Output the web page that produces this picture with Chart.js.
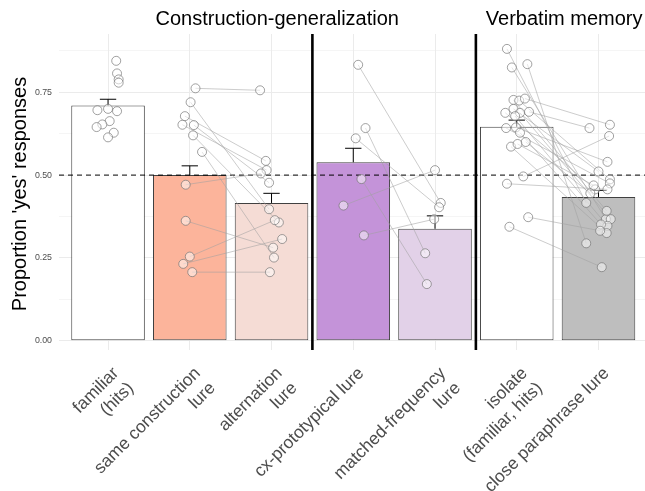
<!DOCTYPE html>
<html>
<head>
<meta charset="utf-8">
<script src="https://cdn.jsdelivr.net/npm/chart.js@4.4.1/dist/chart.umd.min.js"></script>
<style>
  html, body { margin: 0; padding: 0; background: #ffffff; }
  canvas { display: block; }
</style>
</head>
<body>
<canvas id="c" width="645" height="491"></canvas>
<script>
// ---------- DATA ----------
const tickLabels = [
  ['familiar', '(hits)'],
  ['same construction', 'lure'],
  ['alternation', 'lure'],
  ['cx-prototypical lure'],
  ['matched-frequency', 'lure'],
  ['isolate', '(familiar, hits)'],
  ['close paraphrase lure']
];
const groupTitles = ['Construction-generalization', 'Verbatim memory'];
const groupTitleAt = [2.07, 5.58];
const separatorsAt = [2.5, 4.5];
const referenceLine = 0.5;
const yTickValues = [0, 0.125, 0.25, 0.375, 0.5, 0.625, 0.75, 0.875];

const means = [0.710, 0.500, 0.416, 0.539, 0.338, 0.646, 0.434];
const ses   = [0.019, 0.028, 0.029, 0.042, 0.039, 0.020, 0.020];

// participant values (jitter in category units)
const familiarVals = [0.845, 0.807, 0.789, 0.779, 0.696, 0.700, 0.693, 0.663, 0.653, 0.645, 0.628, 0.614];
const familiarJit  = [0.10, 0.11, 0.13, 0.13, -0.13, 0.00, 0.11, 0.02, -0.07, -0.14, 0.07, 0.00];

const sameVals = [0.762, 0.720, 0.678, 0.652, 0.651, 0.620, 0.570, 0.471, 0.362, 0.254, 0.232, 0.207];
const sameJit  = [0.07, 0.01, -0.06, -0.09, 0.05, 0.04, 0.15, -0.05, -0.05, 0.00, -0.08, 0.03];
const altVals  = [0.756, 0.397, 0.543, 0.515, 0.477, 0.357, 0.251, 0.505, 0.281, 0.364, 0.307, 0.207];
const altJit   = [-0.14, -0.03, -0.07, -0.06, -0.03, 0.09, 0.03, -0.13, 0.02, 0.04, 0.13, -0.02];

const cxVals = [0.833, 0.642, 0.611, 0.488, 0.408, 0.318];
const cxJit  = [0.06, 0.15, 0.03, 0.10, -0.12, 0.13];
const mfVals = [0.416, 0.264, 0.403, 0.171, 0.515, 0.367];
const mfJit  = [0.07, -0.12, 0.05, -0.10, 0.00, -0.01];

const isoVals = [0.881, 0.825, 0.835, 0.727, 0.725, 0.731, 0.700, 0.688, 0.688, 0.691, 0.678, 0.642, 0.644, 0.628, 0.586, 0.594, 0.600, 0.496, 0.474, 0.373, 0.344];
const isoJit  = [-0.12, -0.06, 0.13, -0.04, 0.03, 0.10, -0.04, -0.14, 0.04, 0.15, -0.02, -0.13, -0.01, 0.04, -0.07, 0.01, 0.11, 0.08, -0.12, 0.14, -0.09];
const cpVals  = [0.416, 0.367, 0.294, 0.392, 0.487, 0.652, 0.511, 0.457, 0.367, 0.642, 0.347, 0.475, 0.540, 0.351, 0.325, 0.469, 0.445, 0.618, 0.457, 0.332, 0.222];
const cpJit   = [-0.15, 0.09, -0.15, 0.10, 0.14, 0.14, 0.00, -0.04, 0.15, -0.11, 0.11, 0.14, 0.11, 0.03, 0.10, -0.06, -0.10, 0.13, 0.11, 0.02, 0.04];

// ---------- STYLE ----------
const barColors = ['#ffffff', '#fcb49b', '#f5dcd5', '#c493d9', '#e2d1e8', '#ffffff', '#bebebe'];
const FONT = '"Liberation Sans", Arial, Helvetica, sans-serif';

// ---------- BUILD ----------
const unpaired = [{ cat: 0, vals: familiarVals, jit: familiarJit }];
const paired = [
  { a: 1, av: sameVals, aj: sameJit, b: 2, bv: altVals, bj: altJit },
  { a: 3, av: cxVals, aj: cxJit, b: 4, bv: mfVals, bj: mfJit },
  { a: 5, av: isoVals, aj: isoJit, b: 6, bv: cpVals, bj: cpJit }
];

const pointData = [];
const lineData = [];
unpaired.forEach(g => g.vals.forEach((v, i) => pointData.push({ x: g.cat + g.jit[i], y: v })));
paired.forEach(p => {
  p.av.forEach((v, i) => {
    const A = { x: p.a + p.aj[i], y: v };
    const B = { x: p.b + p.bj[i], y: p.bv[i] };
    lineData.push(A, B, { x: p.b + p.bj[i], y: null });
    pointData.push(A, B);
  });
});

const annot = {
  id: 'annot',
  afterDatasetDraw(chart, args) {
    if (args.index !== 0) return;
    const { ctx, chartArea: ca, scales: { x, y } } = chart;
    ctx.save();
    // error bars (upper)
    ctx.strokeStyle = '#000000';
    ctx.lineWidth = 1;
    means.forEach((m, i) => {
      const px = x.getPixelForValue(i);
      const y0 = y.getPixelForValue(m);
      const y1 = y.getPixelForValue(m + ses[i]);
      const hw = x.getPixelForValue(i + 0.1) - px;
      ctx.beginPath();
      ctx.moveTo(px, y0); ctx.lineTo(px, y1);
      ctx.moveTo(px - hw, y1); ctx.lineTo(px + hw, y1);
      ctx.stroke();
    });
    // reference dashed line
    const ry = y.getPixelForValue(referenceLine);
    ctx.setLineDash([5, 4]);
    ctx.beginPath();
    ctx.moveTo(ca.left, ry); ctx.lineTo(ca.right, ry);
    ctx.stroke();
    ctx.setLineDash([]);
    // separators
    ctx.lineWidth = 2.6;
    separatorsAt.forEach(s => {
      const sx = x.getPixelForValue(s);
      ctx.beginPath();
      ctx.moveTo(sx, ca.top); ctx.lineTo(sx, ca.bottom);
      ctx.stroke();
    });
    ctx.restore();
  },
  afterDraw(chart) {
    const { ctx, chartArea: ca, scales: { x } } = chart;
    ctx.save();
    // group titles
    ctx.fillStyle = '#000000';
    ctx.font = '20px ' + FONT;
    ctx.textAlign = 'center';
    ctx.textBaseline = 'alphabetic';
    groupTitles.forEach((t, i) => ctx.fillText(t, x.getPixelForValue(groupTitleAt[i]), 25));
    // y axis title
    ctx.save();
    ctx.font = '20px ' + FONT;
    ctx.translate(26, (ca.top + ca.bottom) / 2 + 2);
    ctx.rotate(-Math.PI / 2);
    ctx.fillText("Proportion 'yes' responses", 0, 0);
    ctx.restore();
    // x tick labels, rotated 45 degrees, right aligned
    const f = 17.5, lh = 21, d = lh * Math.SQRT1_2;
    ctx.font = f + 'px ' + FONT;
    ctx.fillStyle = '#4d4d4d';
    ctx.textAlign = 'right';
    tickLabels.forEach((lines, i) => {
      const px = x.getPixelForValue(i);
      lines.forEach((ln, k) => {
        ctx.save();
        ctx.translate(px + 11.4 + k * d, ca.bottom + 24 + k * d);
        ctx.rotate(-Math.PI / 4);
        ctx.fillText(ln, 0, 0);
        ctx.restore();
      });
    });
    ctx.restore();
  }
};

const isMajor = v => Math.abs(v / 0.25 - Math.round(v / 0.25)) < 1e-6;

new Chart(document.getElementById('c'), {
  type: 'bar',
  data: {
    datasets: [
      {
        type: 'bar',
        data: means.map((m, i) => ({ x: i, y: m })),
        backgroundColor: barColors,
        borderColor: '#404040',
        borderWidth: 1,
        borderSkipped: false,
        barPercentage: 0.9,
        categoryPercentage: 1,
        order: 3
      },
      {
        type: 'line',
        data: lineData,
        borderColor: 'rgba(160,160,160,0.6)',
        borderWidth: 0.9,
        pointRadius: 0,
        spanGaps: false,
        fill: false,
        order: 2
      },
      {
        type: 'scatter',
        data: pointData,
        pointRadius: 4.5,
        backgroundColor: 'rgba(255,255,255,0.5)',
        borderColor: 'rgba(115,115,115,0.75)',
        borderWidth: 0.9,
        order: 1
      }
    ]
  },
  options: {
    responsive: false,
    animation: false,
    events: [],
    layout: { autoPadding: false, padding: { top: 34, left: 0, right: 0, bottom: 0 } },
    plugins: { legend: { display: false }, tooltip: { enabled: false } },
    scales: {
      x: {
        type: 'linear',
        offset: false,
        min: -0.6,
        max: 6.569,
        afterBuildTicks(s) { s.ticks = tickLabels.map((_, i) => ({ value: i })); },
        afterFit(s) { s.height = 141; },
        ticks: { display: false },
        grid: { color: '#ebebeb', lineWidth: 1, drawTicks: false, offset: false },
        border: { display: false }
      },
      y: {
        min: -0.028,
        max: 0.926,
        afterBuildTicks(s) { s.ticks = yTickValues.map(v => ({ value: v })); },
        afterFit(s) { s.width = 59; },
        ticks: {
          color: '#4d4d4d',
          font: { size: 8.8, family: FONT },
          padding: 7,
          callback: v => isMajor(v) ? v.toFixed(2) : ''
        },
        grid: {
          color: '#ebebeb',
          drawTicks: false,
          lineWidth: c => (c.tick && isMajor(c.tick.value)) ? 1 : 0.5
        },
        border: { display: false }
      }
    }
  },
  plugins: [annot]
});
</script>
</body>
</html>
